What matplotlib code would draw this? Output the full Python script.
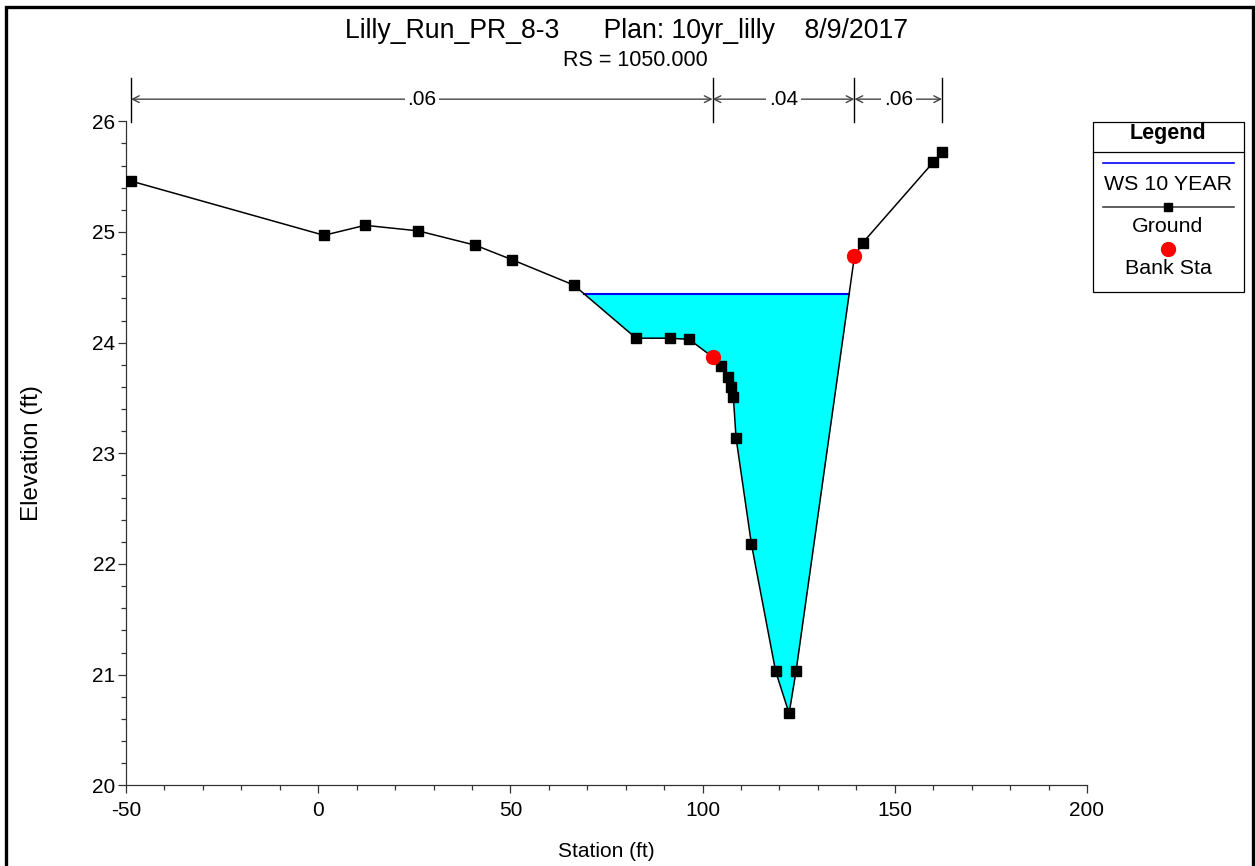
import numpy as np
import matplotlib
matplotlib.use("Agg")
import matplotlib.pyplot as plt
from matplotlib.ticker import MultipleLocator
from matplotlib.lines import Line2D
from matplotlib.patches import Rectangle

plt.rcParams['font.family'] = ['Liberation Sans', 'DejaVu Sans']
plt.rcParams['axes.unicode_minus'] = False

# Cross-section ground points (station ft, elevation ft)
station = [-48.7, 1.5, 12.2, 26.0, 40.9, 50.4, 66.5, 82.7, 91.4, 96.5,
           102.6, 104.7, 106.7, 107.4, 108.0, 108.7, 112.7, 119.0, 122.5,
           124.3, 139.5, 141.6, 160.0, 162.3]
elevation = [25.46, 24.97, 25.06, 25.01, 24.88, 24.75, 24.52, 24.04, 24.04,
             24.03, 23.87, 23.79, 23.69, 23.60, 23.51, 23.14, 22.18, 21.03,
             20.65, 21.03, 24.78, 24.90, 25.63, 25.72]

# Water surface, 10 year event
ws_elev = 24.44

# Bank stations
bank_sta = [102.6, 139.5]
bank_elev = [23.87, 24.78]

# Manning's n breaks and values
n_breaks = [-48.7, 102.6, 139.5, 162.3]
n_values = ['.06', '.04', '.06']

title_text = "Lilly_Run_PR_8-3      Plan: 10yr_lilly    8/9/2017"
subtitle_text = "RS = 1050.000"

W, H = 1255, 866
fig = plt.figure(figsize=(W / 100, H / 100), dpi=100)


def fx(px):
    return px / W


def fy(py):
    return 1 - py / H


ax_l, ax_r, ax_t, ax_b = 126, 1087, 121.3, 785.3
ax = fig.add_axes([fx(ax_l), fy(ax_b), (ax_r - ax_l) / W, (ax_b - ax_t) / H])

st = np.array(station)
el = np.array(elevation)

# Water fill below the water surface
ax.fill_between(st, el, ws_elev, where=el < ws_elev, interpolate=True,
                color='#00FFFF', lw=0, zorder=1)

# Water surface extents from the ground crossings
cross = []
for i in range(len(st) - 1):
    a, b = el[i] - ws_elev, el[i + 1] - ws_elev
    if a * b < 0:
        t = a / (a - b)
        cross.append(st[i] + t * (st[i + 1] - st[i]))
ax.plot([cross[0], cross[-1]], [ws_elev, ws_elev], color='#0000FF', lw=1.5,
        zorder=2)

ax.plot(st, el, color='black', lw=1.1, marker='s', ms=6.5, zorder=3)
ax.plot(bank_sta, bank_elev, ls='none', marker='o', color='#FF0000', ms=10,
        zorder=4)

ax.set_xlim(-50, 200)
ax.set_ylim(20, 26)
ax.xaxis.set_major_locator(MultipleLocator(50))
ax.xaxis.set_minor_locator(MultipleLocator(10))
ax.yaxis.set_major_locator(MultipleLocator(1))
ax.yaxis.set_minor_locator(MultipleLocator(0.2))
ax.tick_params(which='major', length=6, width=0.9, labelsize=15, direction='out',
               color='#333333')
ax.tick_params(which='minor', length=3.6, width=0.9, direction='out',
               color='#333333')
ax.tick_params(axis='y', pad=1.5)
ax.tick_params(axis='x', pad=5)
for s in ['top', 'right']:
    ax.spines[s].set_visible(False)
for s in ['left', 'bottom']:
    ax.spines[s].set_color('#333333')
    ax.spines[s].set_linewidth(0.9)

ax.set_xlabel('Station (ft)', fontsize=15, labelpad=16)
fig.text(fx(32), fy(453), 'Elevation (ft)', rotation=90, ha='center',
         va='center', fontsize=17.5)

# Manning's n brackets above the plot
y_arrow = 26.2
for xb in n_breaks:
    ax.plot([xb, xb], [25.99, 26.39], color='black', lw=1.0, clip_on=False)
for i, lab in enumerate(n_values):
    x0, x1 = n_breaks[i], n_breaks[i + 1]
    ax.annotate('', xy=(x1, y_arrow), xytext=(x0, y_arrow),
                arrowprops=dict(arrowstyle='<->', color='#444444', lw=1.0,
                                shrinkA=0, shrinkB=0, mutation_scale=12),
                annotation_clip=False)
    ax.text((x0 + x1) / 2, y_arrow, lab, ha='center', va='center', fontsize=15,
            bbox=dict(facecolor='white', edgecolor='none', pad=2),
            clip_on=False, zorder=5)

fig.text(fx(627), fy(31), title_text, ha='center', va='center', fontsize=19.2)
fig.text(fx(635), fy(61), subtitle_text, ha='center', va='center',
         fontsize=15.5)

# Legend panel
lx0, lx1, ly0, ly1 = 1093, 1244, 122, 292
fig.add_artist(Rectangle((fx(lx0), fy(ly1)), (lx1 - lx0) / W, (ly1 - ly0) / H,
                         transform=fig.transFigure, fill=False, ec='black',
                         lw=0.9))
fig.add_artist(Line2D([fx(lx0), fx(lx1)], [fy(152), fy(152)],
                      transform=fig.transFigure, color='black', lw=0.9))
fig.text(fx(1168), fy(134), 'Legend', ha='center', va='center', fontsize=15.5,
         fontweight='bold')
fig.add_artist(Line2D([fx(1103), fx(1234)], [fy(163), fy(163)],
                      transform=fig.transFigure, color='#0000FF', lw=1.2))
fig.text(fx(1168), fy(184), 'WS 10 YEAR', ha='center', va='center',
         fontsize=15.4)
fig.add_artist(Line2D([fx(1103), fx(1234)], [fy(207), fy(207)],
                      transform=fig.transFigure, color='#333333', lw=1.1))
fig.add_artist(Line2D([fx(1168)], [fy(207)], transform=fig.transFigure,
                      marker='s', color='black', ms=6, ls='none'))
fig.text(fx(1168), fy(226), 'Ground', ha='center', va='center', fontsize=15.4)
fig.add_artist(Line2D([fx(1168)], [fy(249)], transform=fig.transFigure,
                      marker='o', color='#FF0000', ms=10, ls='none'))
fig.text(fx(1168), fy(268), 'Bank Sta', ha='center', va='center',
         fontsize=15.4)

# Outer frame
fig.add_artist(Rectangle((fx(6), fy(900)), (1253 - 6) / W, (900 - 7) / H,
                         transform=fig.transFigure, fill=False, ec='black',
                         lw=2.4, clip_on=False))

fig.savefig('out.png', dpi=100)
